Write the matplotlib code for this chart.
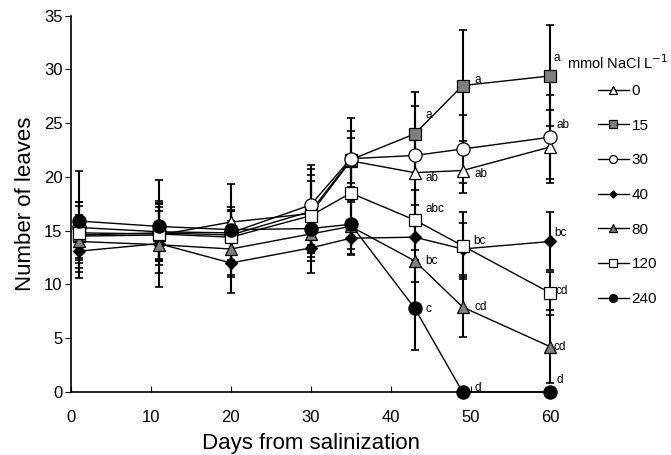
import numpy as np
import matplotlib
matplotlib.use("Agg")
import matplotlib.pyplot as plt

plt.rcParams['font.family'] = ['Liberation Sans', 'DejaVu Sans']

days = [1, 11, 20, 30, 35, 43, 49, 60]
labels = ['0', '15', '30', '40', '80', '120', '240']

# mean number of leaves per NaCl level
s0 = [14.5, 14.6, 15.8, 16.6, 21.5, 20.4, 20.6, 22.8]
s15 = [14.6, 14.8, 14.6, 16.8, 21.6, 24.0, 28.5, 29.4]
s30 = [15.3, 14.9, 14.8, 17.4, 21.7, 22.0, 22.6, 23.7]
s40 = [13.1, 13.8, 12.0, 13.4, 14.3, 14.4, 13.3, 14.0]
s80 = [14.0, 13.7, 13.3, 14.7, 15.4, 12.2, 7.9, 4.2]
s120 = [14.8, 14.7, 14.4, 16.4, 18.5, 16.0, 13.6, 9.2]
s240 = [15.9, 15.4, 15.1, 15.2, 15.6, 7.8, 0.0, 0.0]

# error bars
e0 = [2.0, 2.2, 1.4, 3.0, 2.1, 4.0, 2.1, 3.4]
e15 = [3.1, 3.0, 2.3, 3.9, 3.9, 3.9, 5.2, 4.7]
e30 = [2.4, 2.6, 2.0, 3.7, 2.6, 4.6, 3.2, 3.9]
e40 = [2.5, 1.6, 2.8, 2.3, 1.6, 2.1, 2.4, 2.7]
e80 = [2.0, 3.9, 2.6, 2.5, 2.6, 2.0, 2.8, 3.4]
e120 = [2.5, 2.5, 2.4, 3.8, 2.5, 2.8, 3.1, 2.0]
e240 = [4.7, 4.3, 4.2, 2.2, 2.3, 3.9, 0.0, 0.0]

# significance letters (x, y, text)
letters = [
    (44.3, 25.8, 'a'), (50.5, 29.0, 'a'), (60.4, 31.1, 'a'),
    (44.3, 19.9, 'ab'), (50.5, 20.3, 'ab'), (60.7, 24.8, 'ab'),
    (44.3, 17.0, 'abc'), (44.3, 12.2, 'bc'), (44.3, 7.7, 'c'),
    (50.4, 14.0, 'bc'), (50.5, 7.9, 'cd'), (50.5, 0.4, 'd'),
    (60.5, 14.8, 'bc'), (60.6, 9.4, 'cd'), (60.4, 4.2, 'cd'), (60.7, 1.1, 'd'),
]

grey = '#7f7f7f'
series = [
    (s0, e0, '^', 'white', 9),
    (s15, e15, 's', grey, 9),
    (s30, e30, 'o', 'white', 9.5),
    (s40, e40, 'D', 'black', 6),
    (s80, e80, '^', grey, 9),
    (s120, e120, 's', 'white', 9),
    (s240, e240, 'o', 'black', 9.5),
]

fig = plt.figure(figsize=(6.71, 4.55), dpi=100)
ax = fig.add_axes([0.1058, 0.1385, 0.7146, 0.827])

handles = []
for vals, errs, mk, fc, ms in series:
    ax.errorbar(days, vals, yerr=errs, fmt='none', ecolor='black',
                elinewidth=1.5, capsize=3, capthick=1.2, zorder=2, clip_on=False)
for (vals, errs, mk, fc, ms), lab in zip(series, labels):
    h, = ax.plot(days, vals, color='black', lw=1.0, marker=mk, ms=ms,
                 mfc=fc, mec='black', mew=0.9, label=lab, zorder=3, clip_on=False)
    handles.append(h)

for x, y, t in letters:
    ax.text(x, y, t, fontsize=8.5, ha='left', va='center')

ax.set_xlim(0, 60)
ax.set_ylim(0, 35)
ax.set_xticks(np.arange(0, 61, 10))
ax.set_yticks(np.arange(0, 36, 5))
ax.tick_params(axis='x', direction='in', length=4, labelsize=12, pad=13)
ax.tick_params(axis='y', direction='out', length=4, labelsize=12, pad=2)
for s in ['top', 'right']:
    ax.spines[s].set_visible(False)
for s in ['left', 'bottom']:
    ax.spines[s].set_linewidth(1.2)

ax.set_xlabel('Days from salinization', fontsize=16, labelpad=6)
ax.set_ylabel('Number of leaves', fontsize=16, labelpad=6)

fig.text(567 / 671, 1 - 63 / 455, 'mmol NaCl L$^{-1}$', fontsize=10.5,
         ha='left', va='center')
fig.legend(handles=handles, labels=labels, loc='upper left',
           bbox_to_anchor=(592 / 671, 1 - 78 / 455), frameon=False,
           fontsize=11, markerscale=0.6, handlelength=2.0,
           handletextpad=0.2, labelspacing=1.35, borderaxespad=0)

fig.savefig('out.png', dpi=100)
